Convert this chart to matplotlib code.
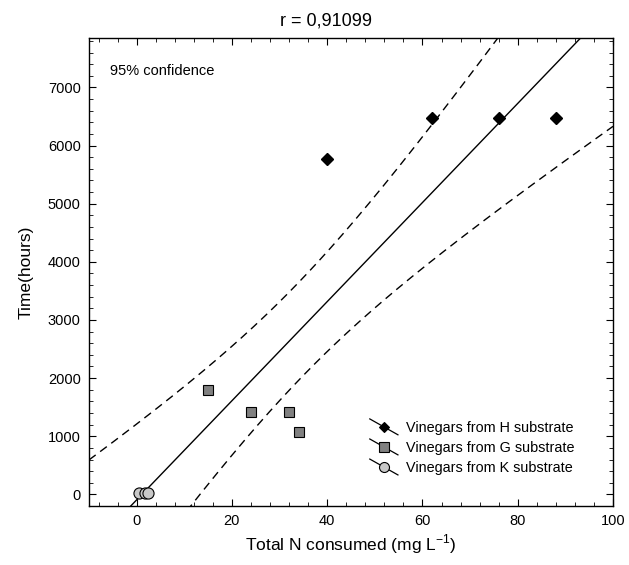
import numpy as np
import matplotlib
matplotlib.use('Agg')
import matplotlib.pyplot as plt
from matplotlib.lines import Line2D
from matplotlib.legend_handler import HandlerBase
from matplotlib.ticker import MultipleLocator

plt.rcParams['font.family'] = ['Liberation Sans', 'DejaVu Sans']

h_x = [40, 62, 76, 88]
h_y = [5770, 6470, 6470, 6470]
g_x = [15, 24, 32, 34]
g_y = [1800, 1420, 1420, 1070]
k_x = [0.5, 1.7, 2.4]
k_y = [30, 30, 30]
series_labels = ['Vinegars from H substrate', 'Vinegars from G substrate', 'Vinegars from K substrate']
title_text = 'r = 0,91099'
t_crit = 2.262  # t(0.975, df=9)

x_all = np.array(h_x + g_x + k_x, dtype=float)
y_all = np.array(h_y + g_y + k_y, dtype=float)
n = len(x_all)
slope, intercept = np.polyfit(x_all, y_all, 1)
resid = y_all - (slope * x_all + intercept)
s = np.sqrt(np.sum(resid ** 2) / (n - 2))
sxx = np.sum((x_all - x_all.mean()) ** 2)

xs = np.linspace(-10, 100, 300)
fit = slope * xs + intercept
half = t_crit * s * np.sqrt(1 / n + (xs - x_all.mean()) ** 2 / sxx)


class DiagHandler(HandlerBase):
    def create_artists(self, legend, orig, xdescent, ydescent, width, height, fontsize, trans):
        x0, x1 = -xdescent, -xdescent + width
        yc = -ydescent + height / 2
        y0, y1 = yc + 0.55 * fontsize, yc - 0.55 * fontsize
        ln = Line2D([x0, x1], [y0, y1], color='black', lw=0.9, transform=trans)
        mk = Line2D([(x0 + x1) / 2], [yc], marker=orig.get_marker(),
                    markersize=orig.get_markersize() * 0.9, markerfacecolor=orig.get_markerfacecolor(),
                    markeredgecolor='black', markeredgewidth=0.8, linestyle='none', transform=trans)
        return [ln, mk]


fig = plt.figure(figsize=(6.29, 5.65), dpi=100)
ax = fig.add_axes([0.1415, 0.1044, 0.8331, 0.8283])

ax.plot(xs, fit, color='black', lw=1.0)
ax.plot(xs, fit + half, color='black', lw=1.0, dashes=(6, 4))
ax.plot(xs, fit - half, color='black', lw=1.0, dashes=(6, 4))

hh = ax.plot(h_x, h_y, linestyle='none', marker='D', markersize=6, color='black',
             markeredgecolor='black', label=series_labels[0], zorder=5)[0]
gg = ax.plot(g_x, g_y, linestyle='none', marker='s', markersize=7.5, markerfacecolor='#808080',
             markeredgecolor='black', markeredgewidth=0.8, label=series_labels[1], zorder=5)[0]
kk = ax.plot(k_x, k_y, linestyle='none', marker='o', markersize=8, markerfacecolor='#c8c8c8',
             markeredgecolor='black', markeredgewidth=0.8, label=series_labels[2], zorder=5)[0]

ax.set_xlim(-10, 100)
ax.set_ylim(-200, 7850)
ax.xaxis.set_major_locator(MultipleLocator(20))
ax.xaxis.set_minor_locator(MultipleLocator(4))
ax.yaxis.set_major_locator(MultipleLocator(1000))
ax.yaxis.set_minor_locator(MultipleLocator(200))
ax.tick_params(which='both', direction='in', top=True, right=True, labelsize=10.5)
ax.tick_params(which='major', length=5, pad=6)
ax.tick_params(which='minor', length=3)
for sp in ax.spines.values():
    sp.set_linewidth(1.0)

fig.text(0.518, 1 - 21 / 565, title_text, fontsize=13, ha='center', va='center')
ax.set_xlabel('Total N consumed (mg L$^{\\mathregular{-1}}$)', fontsize=12.5, labelpad=3)
ax.set_ylabel('Time(hours)', fontsize=12.5, labelpad=10)
ax.text(0.04, 0.93, '95% confidence', transform=ax.transAxes, fontsize=10.5, va='center')

ax.legend(handles=[hh, gg, kk], handler_map={Line2D: DiagHandler()}, loc='center left',
          bbox_to_anchor=(0.511, 0.124), frameon=False, fontsize=10.4, handlelength=1.95,
          handletextpad=0.55, labelspacing=0.42)

fig.savefig('out.png', dpi=100)
